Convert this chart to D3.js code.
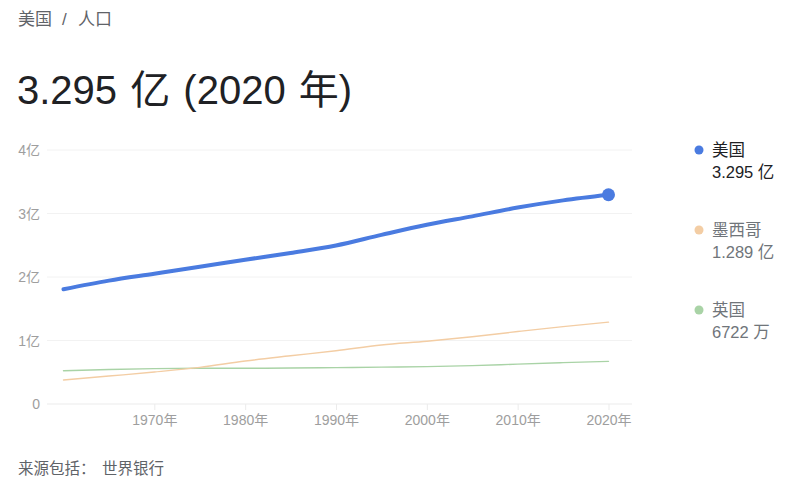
<!DOCTYPE html>
<html>
<head>
<meta charset="utf-8">
<script src="https://cdn.jsdelivr.net/npm/d3@7"></script>
<style>
  body { margin: 0; background: #fff; }
  svg { font-family: "Liberation Sans", "Noto Sans CJK SC", sans-serif; }
</style>
</head>
<body>
<script>
// population, in 亿 (100M), every 5 years
const years = [1960, 1965, 1970, 1975, 1980, 1985, 1990, 1995, 2000, 2005, 2010, 2015, 2020];
const usa = [1.807, 1.943, 2.051, 2.160, 2.272, 2.379, 2.496, 2.663, 2.822, 2.955, 3.093, 3.207, 3.295];
const mexico = [0.378, 0.440, 0.503, 0.576, 0.677, 0.759, 0.839, 0.930, 0.989, 1.060, 1.141, 1.219, 1.289];
const uk = [0.524, 0.544, 0.557, 0.562, 0.563, 0.566, 0.573, 0.580, 0.589, 0.604, 0.628, 0.651, 0.672];
const seriesNames = ['美国', '墨西哥', '英国'];
const seriesLabels = ['3.295 亿', '1.289 亿', '6722 万'];
const yTicks = [0, 1, 2, 3, 4];
const xTicks = [1970, 1980, 1990, 2000, 2010, 2020];

const colors = ['#4a7be0', '#f3cda4', '#a9d3a6'];
const widths = [4, 1.4, 1.4];

const svg = d3.select('body')
  .append('svg')
  .attr('width', 800)
  .attr('height', 503);

const x = d3.scaleLinear().domain([1960, 2020]).range([63.5, 608.5]);
const y = d3.scaleLinear().domain([0, 4]).range([404, 150]);

// header
const crumb = svg.append('g').attr('font-size', 17).attr('fill', '#5f6368');
crumb.append('text').attr('x', 18).attr('y', 25).text('美国');
crumb.append('text').attr('x', 62).attr('y', 25).text('/');
crumb.append('text').attr('x', 78).attr('y', 25).text('人口');

svg.append('text')
  .attr('x', 17).attr('y', 104)
  .attr('font-size', 40).attr('fill', '#202124')
  .attr('word-spacing', 2)
  .text('3.295 亿 (2020 年)');

// grid
svg.append('g')
  .selectAll('line')
  .data(yTicks)
  .enter()
  .append('line')
  .attr('x1', 47).attr('x2', 632)
  .attr('y1', d => y(d)).attr('y2', d => y(d))
  .attr('stroke', d => d === 0 ? '#ebebeb' : '#f2f2f2');

svg.append('g')
  .selectAll('text')
  .data(yTicks)
  .enter()
  .append('text')
  .attr('x', 40)
  .attr('y', d => y(d) + 5)
  .attr('text-anchor', 'end')
  .attr('font-size', 14).attr('fill', '#9e9e9e')
  .text(d => d === 0 ? '0' : d + '亿');

// x axis
const xAxis = svg.append('g')
  .attr('transform', 'translate(0,404)')
  .call(d3.axisBottom(x).tickValues(xTicks).tickSize(6).tickFormat(d => d + '年'));
xAxis.select('.domain').remove();
xAxis.selectAll('line').attr('stroke', '#ebebeb');
xAxis.selectAll('text')
  .attr('font-size', 14).attr('fill', '#9e9e9e')
  .attr('font-family', '"Liberation Sans", "Noto Sans CJK SC", sans-serif')
  .attr('dy', '0.85em');

// lines
const line = d3.line()
  .x((d, i) => x(years[i]))
  .y(d => y(d))
  .curve(d3.curveMonotoneX);

const allSeries = [usa, mexico, uk];
svg.append('g')
  .selectAll('path')
  .data(allSeries.slice().reverse())
  .enter()
  .append('path')
  .attr('d', line)
  .attr('fill', 'none')
  .attr('stroke', (d, i) => colors[2 - i])
  .attr('stroke-width', (d, i) => widths[2 - i])
  .attr('stroke-linecap', 'round');

svg.append('circle')
  .attr('cx', x(years[years.length - 1]))
  .attr('cy', y(usa[usa.length - 1]))
  .attr('r', 6.5)
  .attr('fill', colors[0]);

// legend
const legend = svg.append('g')
  .selectAll('g')
  .data(seriesNames)
  .enter()
  .append('g')
  .attr('transform', (d, i) => `translate(0,${150 + i * 80})`);

legend.append('circle')
  .attr('cx', 699).attr('cy', 0).attr('r', 4.5)
  .attr('fill', (d, i) => colors[i]);

legend.append('text')
  .attr('x', 712).attr('y', 6)
  .attr('font-size', 16.5)
  .attr('fill', (d, i) => i === 0 ? '#202124' : '#70757a')
  .text(d => d);

legend.append('text')
  .attr('x', 712).attr('y', 28)
  .attr('font-size', 16.5)
  .attr('fill', (d, i) => i === 0 ? '#202124' : '#70757a')
  .text((d, i) => seriesLabels[i]);

// footer
const foot = svg.append('g').attr('font-size', 15.5).attr('fill', '#5f6368');
foot.append('text').attr('x', 18).attr('y', 474).text('来源包括：');
foot.append('text').attr('x', 102).attr('y', 474).text('世界银行');
</script>
</body>
</html>
